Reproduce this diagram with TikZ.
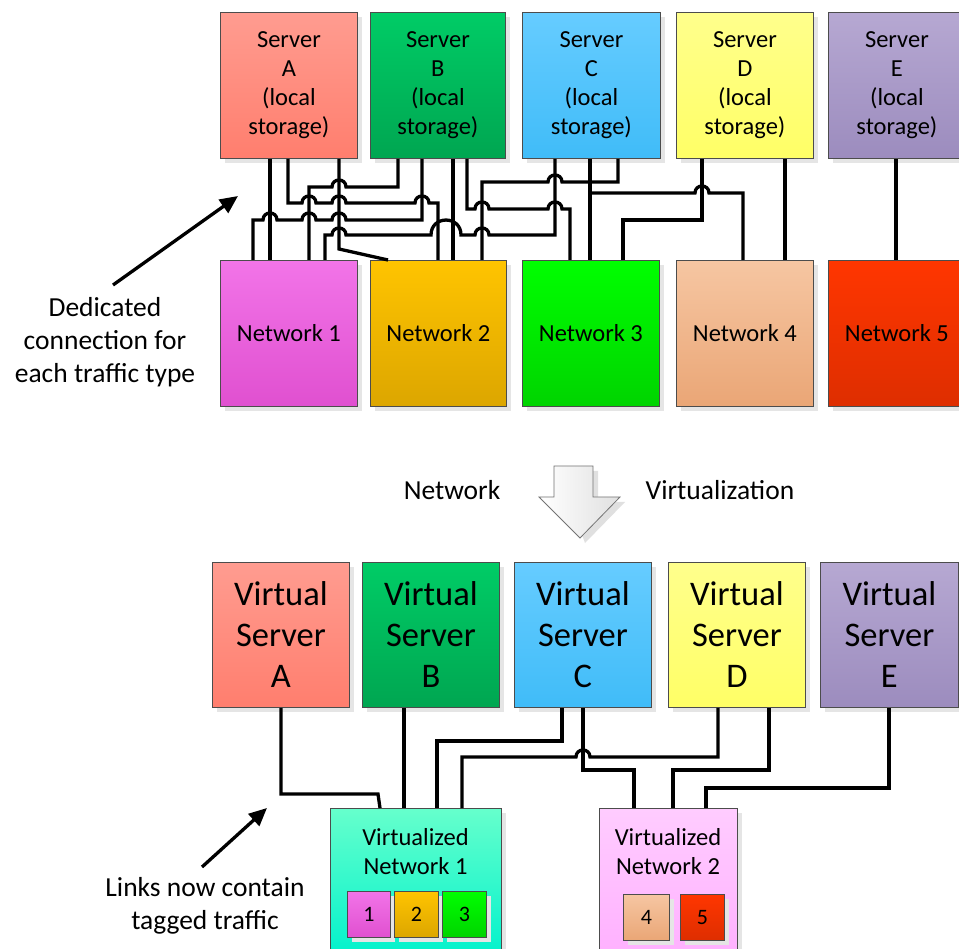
\documentclass[tikz,border=0pt]{standalone}
\usepackage{fontspec}
\setmainfont{Carlito}
\usetikzlibrary{shadows,arrows.meta}
\definecolor{aT}{HTML}{FF9C90}\definecolor{aB}{HTML}{FF7E6E}
\definecolor{bT}{HTML}{00CC66}\definecolor{bB}{HTML}{00A651}
\definecolor{cT}{HTML}{66CCFF}\definecolor{cB}{HTML}{40BCF8}
\definecolor{dT}{HTML}{FFFF8C}\definecolor{dB}{HTML}{FFFF66}
\definecolor{eT}{HTML}{B6A8D2}\definecolor{eB}{HTML}{9C8CBE}
\definecolor{n1T}{HTML}{F274E8}\definecolor{n1B}{HTML}{E050D0}
\definecolor{n2T}{HTML}{FFC400}\definecolor{n2B}{HTML}{DCA600}
\definecolor{n3T}{HTML}{00FF00}\definecolor{n3B}{HTML}{00D400}
\definecolor{n4T}{HTML}{F6C6A2}\definecolor{n4B}{HTML}{EAA676}
\definecolor{n5T}{HTML}{FF3600}\definecolor{n5B}{HTML}{DE2E00}
\definecolor{v1T}{HTML}{66FFCC}\definecolor{v1B}{HTML}{00F2CC}
\definecolor{v2T}{HTML}{FFCCFF}\definecolor{v2B}{HTML}{FFB0FF}
\begin{document}
\begin{tikzpicture}[x=1pt,y=-1pt,
  box/.style={draw=black!70, line width=0.8pt, anchor=north west, align=center, inner sep=0pt,
    drop shadow={shadow xshift=5pt, shadow yshift=-5pt, fill=black!10, opacity=1}},
  fbox/.style={box, font=\fontsize{24.5}{29}\selectfont},
  vbox/.style={box, font=\fontsize{34.5}{41}\selectfont},
  sbox/.style={box, font=\fontsize{22}{24}\selectfont, minimum height=46pt},
  lbl/.style={align=center, inner sep=0pt, font=\fontsize{27.5}{33}\selectfont},
  wire/.style={line width=3.3pt},
  hr/.style n args={3}{insert path={-- ({#1-#3},#2) .. controls ({#1-#3},{#2-1.33*#3}) and ({#1+#3},{#2-1.33*#3}) .. ({#1+#3},#2)}},
  hl/.style n args={3}{insert path={-- ({#1+#3},#2) .. controls ({#1+#3},{#2-1.33*#3}) and ({#1-#3},{#2-1.33*#3}) .. ({#1-#3},#2)}},
]
\useasboundingbox (0,0) rectangle (959,949);
\clip (0,0) rectangle (959,949);
\fill[white] (0,0) rectangle (959,949);

% top servers
\node[fbox, minimum width=137pt, minimum height=146pt, top color=aT, bottom color=aB] (sA) at (220,12) {Server\\A\\(local\\storage)};
\node[fbox, minimum width=135pt, minimum height=146pt, top color=bT, bottom color=bB] (sB) at (370,12) {Server\\B\\(local\\storage)};
\node[fbox, minimum width=138pt, minimum height=146pt, top color=cT, bottom color=cB] (sC) at (522,12) {Server\\C\\(local\\storage)};
\node[fbox, minimum width=137pt, minimum height=146pt, top color=dT, bottom color=dB] (sD) at (676,12) {Server\\D\\(local\\storage)};
\node[fbox, minimum width=137pt, minimum height=146pt, top color=eT, bottom color=eB] (sE) at (828,12) {Server\\E\\(local\\storage)};

% networks
\node[fbox, minimum width=137pt, minimum height=146pt, top color=n1T, bottom color=n1B] (n1) at (220,260) {Network 1};
\node[fbox, minimum width=136pt, minimum height=146pt, top color=n2T, bottom color=n2B] (n2) at (370,260) {Network 2};
\node[fbox, minimum width=137pt, minimum height=146pt, top color=n3T, bottom color=n3B] (n3) at (522,260) {Network 3};
\node[fbox, minimum width=137pt, minimum height=146pt, top color=n4T, bottom color=n4B] (n4) at (676,260) {Network 4};
\node[fbox, minimum width=137pt, minimum height=146pt, top color=n5T, bottom color=n5B] (n5) at (828,260) {Network 5};

% top wires
\draw[wire] (270,0 |- sA.south) -- (270,0 |- n1.north);
\draw[wire] (288,0 |- sA.south) -- (288,203) [hr={309}{203}{7}] [hr={339}{203}{7}] [hr={422}{203}{7}] -- (438,203) -- (438,0 |- n2.north);
\draw[wire] (339,0 |- sA.south) -- (339,249) -- (388,0 |- n2.north);
\draw[wire] (398,0 |- sB.south) -- (398,187) [hl={339}{187}{7}] -- (309,187) -- (309,0 |- n1.north);
\draw[wire] (422,0 |- sB.south) -- (422,220) [hl={339}{220}{7}] [hl={309}{220}{7}] [hl={270}{220}{7}] -- (253,220) -- (253,0 |- n1.north);
\draw[wire] (453,0 |- sB.south) -- (453,0 |- n2.north);
\draw[wire] (467,0 |- sB.south) -- (467,209) [hr={482}{209}{7}] [hr={555}{209}{7}] -- (570,209) -- (570,0 |- n3.north);
\draw[wire] (555,0 |- sC.south) -- (555,235) [hl={482}{235}{7}] [hl={446}{235}{15}] [hl={339}{235}{7}] -- (325,235) -- (325,0 |- n1.north);
\draw[wire] (590,0 |- sC.south) -- (590,0 |- n3.north);
\draw[wire] (590,193) [hr={702}{193}{7}] -- (743,193) -- (743,0 |- n4.north);
\draw[wire] (618,0 |- sC.south) -- (618,182) [hl={555}{182}{7}] -- (482,182) -- (482,0 |- n2.north);
\draw[wire] (702,0 |- sD.south) -- (702,220) -- (623,220) -- (623,0 |- n3.north);
\draw[wire] (785,0 |- sD.south) -- (785,0 |- n4.north);
\draw[wire] (896,0 |- sE.south) -- (896,0 |- n5.north);

% annotation top
\node[lbl] (ded) at (105,342) {Dedicated\\connection for\\each traffic type};
\coordinate (d1) at (113,285);
\coordinate (d2) at (238,196);
\draw[wire, -{Triangle[length=18pt,width=16pt]}] (d1) -- (d2);

% virtualization arrow
\fill[black!12] (559,471) -- (598,471) -- (598,502) -- (625,502) -- (585,543) -- cycle;
\shade[left color=white, right color=black!12, draw=black!55, line width=0.8pt]
  (554,466) -- (593,466) -- (593,497) -- (620,497) -- (580,538) -- (539,497) -- (554,497) -- cycle;
\node[lbl] (tnet) at (452,490) {Network};
\node[lbl] (tvirt) at (720,490) {Virtualization};

% virtual servers
\node[vbox, minimum width=137pt, minimum height=145pt, top color=aT, bottom color=aB] (vA) at (212,562) {Virtual\\Server\\A};
\node[vbox, minimum width=137pt, minimum height=145pt, top color=bT, bottom color=bB] (vB) at (362,562) {Virtual\\Server\\B};
\node[vbox, minimum width=137pt, minimum height=145pt, top color=cT, bottom color=cB] (vC) at (514,562) {Virtual\\Server\\C};
\node[vbox, minimum width=137pt, minimum height=145pt, top color=dT, bottom color=dB] (vD) at (668,562) {Virtual\\Server\\D};
\node[vbox, minimum width=138pt, minimum height=145pt, top color=eT, bottom color=eB] (vE) at (820,562) {Virtual\\Server\\E};

% virtualized networks
\node[box, minimum width=171pt, minimum height=150pt, top color=v1T, bottom color=v1B] (vn1) at (330,808) {};
\node[box, minimum width=138pt, minimum height=150pt, top color=v2T, bottom color=v2B] (vn2) at (599,808) {};
\node[align=center, inner sep=0pt, font=\fontsize{24.5}{29}\selectfont] (vn1t) at (415.5,852) {Virtualized\\Network 1};
\node[align=center, inner sep=0pt, font=\fontsize{24.5}{29}\selectfont] (vn2t) at (668,852) {Virtualized\\Network 2};
\node[sbox, minimum width=43pt, top color=n1T, bottom color=n1B] (t1) at (347,891) {1};
\node[sbox, minimum width=44pt, top color=n2T, bottom color=n2B] (t2) at (394,891) {2};
\node[sbox, minimum width=44pt, top color=n3T, bottom color=n3B] (t3) at (442,891) {3};
\node[sbox, minimum width=46pt, top color=n4T, bottom color=n4B] (t4) at (623,894) {4};
\node[sbox, minimum width=44pt, top color=n5T, bottom color=n5B] (t5) at (680,894) {5};

% bottom wires
\draw[wire] (281,0 |- vA.south) -- (281,794) -- (378,794) -- (380,0 |- vn1.north);
\draw[wire] (404,0 |- vB.south) -- (404,0 |- vn1.north);
\draw[wire] (562,0 |- vC.south) -- (562,741) -- (437,741) -- (437,0 |- vn1.north);
\draw[wire] (583,0 |- vC.south) -- (583,770) -- (634,770) -- (634,0 |- vn2.north);
\draw[wire] (718,0 |- vD.south) -- (718,757) [hl={583}{757}{7}] -- (462,757) -- (462,0 |- vn1.north);
\draw[wire] (769,0 |- vD.south) -- (769,770) -- (673,770) -- (673,0 |- vn2.north);
\draw[wire] (889,0 |- vE.south) -- (889,788) -- (706,788) -- (706,0 |- vn2.north);

% annotation bottom
\node[lbl] (lnk) at (205,906) {Links now contain\\tagged traffic};
\coordinate (l1) at (202,867);
\coordinate (l2) at (267,808);
\draw[wire, -{Triangle[length=18pt,width=16pt]}] (l1) -- (l2);
\end{tikzpicture}
\end{document}
